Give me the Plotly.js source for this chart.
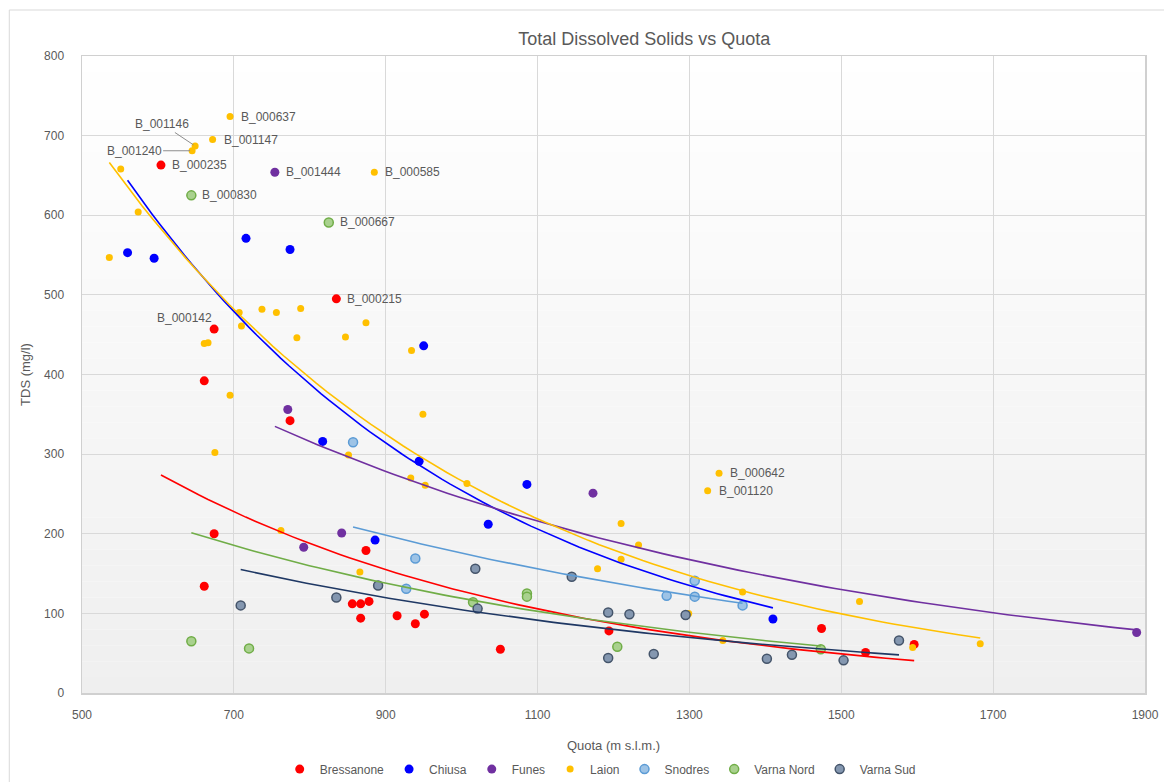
<!DOCTYPE html>
<html><head><meta charset="utf-8">
<script src="https://cdn.plot.ly/plotly-3.0.1.min.js"></script>
<style>html,body{margin:0;padding:0;background:#fff}#chart{width:1164px;height:782px}</style>
</head><body><div id="chart"></div>
<script>
// ---- data ----
const seriesNames = ['Bressanone','Chiusa','Funes','Laion','Snodres','Varna Nord','Varna Sud'];

const bressanoneX = [604,835,674,661,774,674,661,874,856,867,878,867,915,951,939,1051,1194,1474,1532,1596];
const bressanoneY = [663,495,457,392,342,200,134,179,112,112,115,94,97,99,87,55,78,81,51,61];

const chiusaX = [560,595,716,774,950,817,944,1086,1035,886,1410];
const chiusaY = [553,546,571,557,436,316,291,262,212,192,93];

const funesX = [754,771,1173,842,792,1889];
const funesY = [654,356,251,201,183,76];

const laionX = [695,672,649,645,885,1339,1324,551,574,536,737,756,788,707,874,710,783,847,661,666,934,695,949,675,851,933,952,1007,762,866,1210,1233,1179,1210,1370,1524,1299,1344,1594,1683];
const laionY = [724,695,687,681,654,276,254,658,604,547,482,478,483,478,465,461,446,447,439,440,430,374,350,302,299,270,261,263,204,152,213,186,156,168,127,115,100,66,57,62];

const snodresX = [857,939,927,1307,1270,1307,1370];
const snodresY = [315,169,131,141,122,121,110];

const varnaNordX = [644,825,1086,1086,1015,1205,1473,644,720];
const varnaNordY = [625,591,125,121,114,58,55,65,56];

const varnaSudX = [709,835,890,1018,1145,1021,1193,1221,1295,1193,1253,1402,1435,1503,1576];
const varnaSudY = [110,120,135,156,146,106,101,99,98,44,49,43,48,41,66];

const labelSeries = ['Laion','Laion','Laion','Laion','Laion','Laion','Laion','Bressanone','Bressanone','Bressanone','Funes','Varna Nord','Varna Nord'];
const labelIndex  = [0,1,2,3,4,5,6,0,1,2,0,0,1];
const labelText   = ['B_000637','B_001147','B_001146','B_001240','B_000585','B_000642','B_001120','B_000235','B_000215','B_000142','B_001444','B_000830','B_000667'];

const xTickVals = [500,700,900,1100,1300,1500,1700,1900];
const yTickVals = [0,100,200,300,400,500,600,700,800];

// ---- styling ----
const dataX = [bressanoneX, chiusaX, funesX, laionX, snodresX, varnaNordX, varnaSudX];
const dataY = [bressanoneY, chiusaY, funesY, laionY, snodresY, varnaNordY, varnaSudY];
const fillCol = ['#FF0000','#0000FF','#7030A0','#FFC000','#9DC3E6','#A9D18E','#8497B0'];
const edgeCol = ['#FF0000','#0000FF','#7030A0','#FFC000','#5B9BD5','#70AD47','#44546A'];
const trendCol = ['#FF0000','#0000FF','#7030A0','#FFC000','#5B9BD5','#70AD47','#1F3864'];
const mSize = [9,9,9,7,9,9,9];
const mLine = [0,0,0,0,1.5,1.5,1.5];

// exponential trendline (least squares on ln y, as the spreadsheet does)
function expTrend(xs, ys){
  const n = xs.length;
  const ly = ys.map(v=>Math.log(v));
  const mx = xs.reduce((a,b)=>a+b,0)/n;
  const my = ly.reduce((a,b)=>a+b,0)/n;
  let sxy=0, sxx=0;
  for(let i=0;i<n;i++){ sxy += (xs[i]-mx)*(ly[i]-my); sxx += (xs[i]-mx)*(xs[i]-mx); }
  const b = sxy/sxx, lna = my - b*mx;
  const x0 = Math.min(...xs), x1 = Math.max(...xs);
  const tx=[], ty=[];
  for(let k=0;k<=80;k++){ const x = x0 + (x1-x0)*k/80; tx.push(x); ty.push(Math.exp(lna + b*x)); }
  return {tx, ty};
}

const traces = [];
seriesNames.forEach((name,i)=>{
  traces.push({
    type:'scatter', mode:'markers', name:name, x:dataX[i], y:dataY[i],
    marker:{color:fillCol[i], size:mSize[i], line:{color:edgeCol[i], width:mLine[i]}},
    hoverinfo:'x+y+name'
  });
});
seriesNames.forEach((name,i)=>{
  const t = expTrend(dataX[i], dataY[i]);
  traces.push({
    type:'scatter', mode:'lines', x:t.tx, y:t.ty, showlegend:false, hoverinfo:'skip',
    line:{color:trendCol[i], width:1.6}
  });
});

// labels
const labelFont = {family:'Liberation Sans, Arial, sans-serif', size:12, color:'#595959'};
const annotations = labelText.map((txt,k)=>{
  const si = seriesNames.indexOf(labelSeries[k]);
  const x = dataX[si][labelIndex[k]], y = dataY[si][labelIndex[k]];
  const base = {x:x, y:y, xref:'x', yref:'y', text:txt, font:labelFont};
  if (txt === 'B_001146') return Object.assign(base,{showarrow:true, arrowhead:0, arrowwidth:1, arrowcolor:'#8c8c8c', ax:-33, ay:-22, standoff:2});
  if (txt === 'B_001240') return Object.assign(base,{showarrow:true, arrowhead:0, arrowwidth:1, arrowcolor:'#8c8c8c', ax:-58, ay:0, standoff:2});
  if (txt === 'B_000142') return Object.assign(base,{showarrow:false, xanchor:'right', yanchor:'middle', xshift:0, yshift:11});
  return Object.assign(base,{showarrow:false, xanchor:'left', yanchor:'middle', xshift:9});
});

// plot-area gradient (white at top to light grey at bottom) + outer chart border
const shapes = [];
const nb = 40;
for(let k=0;k<nb;k++){
  const t = (k+0.5)/nb; // 0 bottom .. 1 top
  const c = Math.round(239 + (255-239)*t);
  shapes.push({type:'rect', xref:'paper', yref:'paper', x0:0, x1:1, y0:k/nb, y1:(k+1)/nb,
    fillcolor:`rgb(${c},${c},${c})`, line:{width:0}, layer:'below'});
}
shapes.push({type:'rect', xref:'paper', yref:'paper', x0:-0.0684, x1:1.2, y0:-0.3, y1:1.0722,
  fillcolor:'rgba(0,0,0,0)', line:{color:'#d9d9d9', width:1}, layer:'below'});

const axisFont = {family:'Liberation Sans, Arial, sans-serif', size:12, color:'#595959'};
const layout = {
  width:1164, height:782,
  margin:{l:82, r:19, t:56, b:89, autoexpand:false},
  paper_bgcolor:'#ffffff', plot_bgcolor:'#ffffff',
  font:axisFont,
  title:{text:'Total Dissolved Solids vs Quota', x:0.529, xref:'paper', xanchor:'center', y:1 - 39/782, yref:'container', yanchor:'middle',
    font:{family:'Liberation Sans, Arial, sans-serif', size:18, color:'#595959'}},
  xaxis:{range:[500,1900], tickvals:xTickVals, ticktext:xTickVals.map(String), showgrid:true, gridcolor:'#d9d9d9', gridwidth:1,
    zeroline:false, showline:true, mirror:true, linecolor:'#d0d0d0', linewidth:1.5, ticks:'', ticklabelstandoff:10, automargin:false,
    tickfont:axisFont, title:{text:'Quota (m s.l.m.)', font:{family:'Liberation Sans, Arial, sans-serif', size:13, color:'#595959'}, standoff:20}},
  yaxis:{range:[0,800], tickvals:yTickVals, ticktext:yTickVals.map(String), showgrid:true, gridcolor:'#d9d9d9', gridwidth:1,
    zeroline:false, showline:true, mirror:true, linecolor:'#d0d0d0', linewidth:1.5, ticks:'', ticklabelstandoff:14, automargin:false,
    tickfont:axisFont, title:{text:'TDS (mg/l)', font:{family:'Liberation Sans, Arial, sans-serif', size:13, color:'#595959'}, standoff:10}},
  legend:{orientation:'h', x:0.4875, xanchor:'center', y:-0.1195, yanchor:'middle', font:axisFont, itemwidth:30,
    bgcolor:'rgba(0,0,0,0)', tracegroupgap:0},
  showlegend:true,
  annotations:annotations,
  shapes:shapes
};

Plotly.newPlot('chart', traces, layout, {displayModeBar:false, staticPlot:true});
</script>
</body></html>
